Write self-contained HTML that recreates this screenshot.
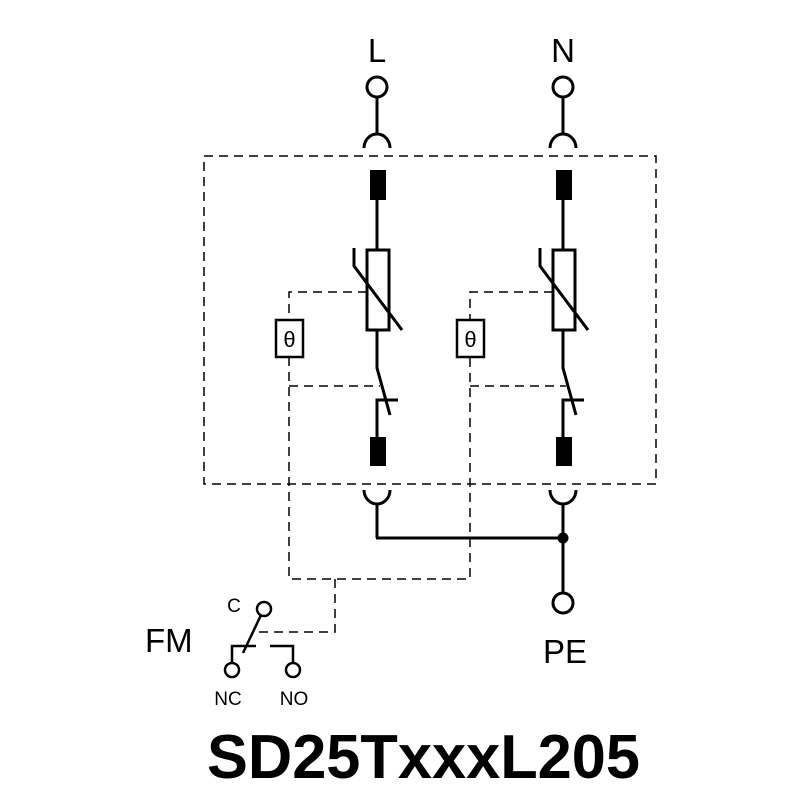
<!DOCTYPE html>
<html><head><style>body{margin:0;background:#fff}svg{display:block}</style></head><body>
<svg width="800" height="800" viewBox="0 0 800 800" xmlns="http://www.w3.org/2000/svg">
<rect width="800" height="800" fill="#fff"/>
<g font-family="Liberation Sans, Arial, sans-serif" fill="#000">
<text x="377" y="62" font-size="33" text-anchor="middle">L</text>
<text x="563" y="62" font-size="33" text-anchor="middle">N</text>
<text x="565" y="663" font-size="33" text-anchor="middle">PE</text>
<text x="145" y="652" font-size="33">FM</text>
<text x="234" y="612" font-size="19" text-anchor="middle">C</text>
<text x="228" y="705" font-size="19" text-anchor="middle">NC</text>
<text x="294" y="705" font-size="19" text-anchor="middle">NO</text>
<text x="207" y="778" font-size="62" font-weight="bold" textLength="433" lengthAdjust="spacingAndGlyphs">SD25TxxxL205</text>
</g>
<g fill="none" stroke="#000" stroke-width="1.5" stroke-dasharray="9,6">
<rect x="204" y="156" width="452" height="328"/>
<polyline points="367,292 289,292 289,320"/>
<polyline points="553,292 470,292 470,320"/>
<polyline points="289,357 289,579 470,579 470,357"/>
<line x1="289" y1="386" x2="380" y2="386"/>
<line x1="470" y1="386" x2="566" y2="386"/>
<polyline points="335,579 335,632 254,632"/>
</g>
<g fill="none" stroke="#000" stroke-width="2.5">
<rect x="276" y="320" width="27" height="37"/>
<rect x="457" y="320" width="27" height="37"/>
</g>
<g font-family="Liberation Sans, Arial, sans-serif" font-size="22" text-anchor="middle" fill="#000">
<text x="289.5" y="347">θ</text><text x="470.5" y="347">θ</text>
</g>
<g fill="none" stroke="#000" stroke-width="3">
<circle cx="377" cy="87" r="10"/>
<line x1="377" y1="97" x2="377" y2="133"/>
<path d="M364,148 A13,14 0 0 1 390,148"/>
<line x1="377" y1="200" x2="377" y2="250"/>
<rect x="367" y="250" width="22" height="80"/>
<polyline points="354,248 354,266 402,330"/>
<polyline points="377,330 377,368 390,415"/>
<polyline points="398,400 377,400 377,437"/>
<path d="M364,490 A13,14 0 0 0 390,490"/>
<line x1="377" y1="504" x2="377" y2="538"/>
</g>
<rect x="370" y="170" width="16" height="30"/>
<rect x="370" y="437" width="16" height="29"/>
<g transform="translate(186,0)" fill="none" stroke="#000" stroke-width="3">
<circle cx="377" cy="87" r="10"/>
<line x1="377" y1="97" x2="377" y2="133"/>
<path d="M364,148 A13,14 0 0 1 390,148"/>
<line x1="377" y1="200" x2="377" y2="250"/>
<rect x="367" y="250" width="22" height="80"/>
<polyline points="354,248 354,266 402,330"/>
<polyline points="377,330 377,368 390,415"/>
<polyline points="398,400 377,400 377,437"/>
<path d="M364,490 A13,14 0 0 0 390,490"/>
<line x1="377" y1="504" x2="377" y2="593"/>
<circle cx="377" cy="603" r="10"/>
</g>
<rect x="556" y="170" width="16" height="30"/>
<rect x="556" y="437" width="16" height="29"/>
<line x1="376" y1="538" x2="563" y2="538" stroke="#000" stroke-width="3"/>
<circle cx="563" cy="538" r="5.5" fill="#000"/>
<g fill="none" stroke="#000" stroke-width="2.5">
<circle cx="264" cy="609" r="7"/>
<line x1="261" y1="615" x2="243" y2="653"/>
<polyline points="256,646 232,646 232,663"/>
<circle cx="232" cy="670" r="7"/>
<polyline points="270,646 293,646 293,663"/>
<circle cx="293" cy="670" r="7"/>
</g>
</svg>
</body></html>
